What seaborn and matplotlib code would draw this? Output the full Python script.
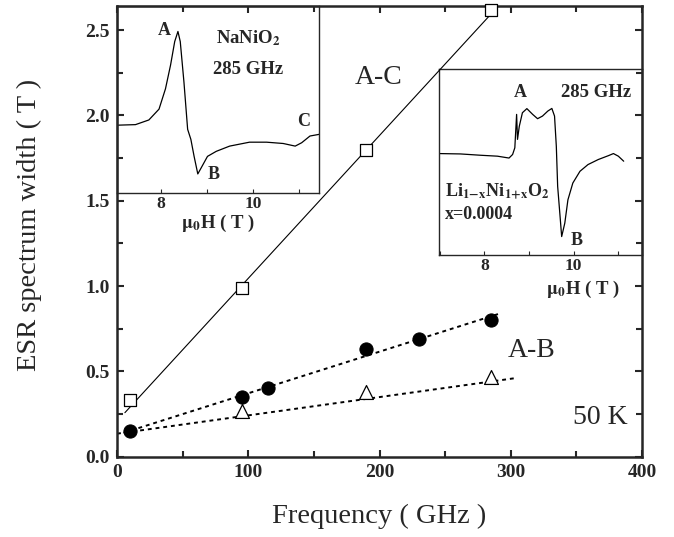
import matplotlib
matplotlib.use("Agg")
import matplotlib.pyplot as plt
import seaborn as sns
from matplotlib.ticker import MultipleLocator, FormatStrFormatter

# main panel: ESR spectrum width vs frequency (50 K)
freq_ac = [10, 95, 190, 285]
width_ac = [0.33, 0.99, 1.80, 2.62]
freq_ab = [10, 95, 115, 190, 230, 285]
width_ab = [0.15, 0.35, 0.40, 0.63, 0.69, 0.80]
freq_ab_li = [95, 190, 285]
width_ab_li = [0.27, 0.38, 0.47]

# guide lines, end points
line_ac_f = [6, 300]
line_ac_w = [0.258, 2.72]
line_ab_f = [5, 292]
line_ab_w = [0.14, 0.84]
line_li_f = [0, 303]
line_li_w = [0.135, 0.46]

# inset 1: NaNiO2 spectrum at 285 GHz (field in T, signal in box units)
na_field = [7.05, 7.45, 7.74, 7.96, 8.10, 8.21, 8.30, 8.37, 8.42, 8.50, 8.58, 8.65,
            8.72, 8.80, 8.87, 9.01, 9.20, 9.49, 9.92, 10.29, 10.65, 10.91, 11.05, 11.23, 11.43]
na_signal = [0.362, 0.365, 0.39, 0.448, 0.557, 0.684, 0.81, 0.864, 0.81, 0.593, 0.34, 0.286,
             0.195, 0.101, 0.132, 0.195, 0.222, 0.25, 0.271, 0.271, 0.264, 0.25, 0.268, 0.304, 0.313]

# inset 2: Li(1-x)Ni(1+x)O2 spectrum at 285 GHz
li_field = [6.98, 7.46, 7.91, 8.29, 8.55, 8.63, 8.68, 8.72, 8.74, 8.78, 8.85, 8.95, 9.08,
            9.19, 9.30, 9.42, 9.51, 9.57, 9.61, 9.64, 9.70, 9.73, 9.80, 9.87, 9.98, 10.14,
            10.32, 10.55, 10.78, 10.89, 11.0, 11.12]
li_signal = [0.544, 0.542, 0.535, 0.53, 0.52, 0.539, 0.575, 0.754, 0.62, 0.69, 0.763, 0.785,
             0.754, 0.731, 0.745, 0.772, 0.786, 0.745, 0.583, 0.368, 0.189, 0.099, 0.171, 0.296,
             0.386, 0.449, 0.485, 0.512, 0.533, 0.544, 0.53, 0.503]

sns.set_style("ticks")
plt.rcParams['font.family'] = ['Liberation Serif', 'DejaVu Serif']
plt.rcParams['mathtext.fontset'] = 'stix'

fig = plt.figure(figsize=(6.74, 5.37), dpi=100)
ax = fig.add_axes([0.1736, 0.1495, 0.779, 0.839])

sns.lineplot(x=line_ac_f, y=line_ac_w, ax=ax, color='black', lw=0.8)
sns.lineplot(x=line_ab_f, y=line_ab_w, ax=ax, color='black', lw=1.4, linestyle=(0, (2, 2)))
sns.lineplot(x=line_li_f, y=line_li_w, ax=ax, color='black', lw=1.4, linestyle=(0, (2, 2)))

sns.scatterplot(x=freq_ac, y=width_ac, ax=ax, marker='s', s=70, facecolor='white',
                edgecolor='black', linewidth=0.9, zorder=5, clip_on=False)
sns.scatterplot(x=freq_ab_li, y=width_ab_li, ax=ax, marker='^', s=100, facecolor='white',
                edgecolor='black', linewidth=0.9, zorder=5)
sns.scatterplot(x=freq_ab, y=width_ab, ax=ax, marker='o', s=90, color='black',
                edgecolor='black', zorder=6)

ax.set_xlim(0, 400)
ax.set_ylim(0, 2.64)
ax.xaxis.set_major_locator(MultipleLocator(100))
ax.xaxis.set_minor_locator(MultipleLocator(50))
ax.yaxis.set_major_locator(MultipleLocator(0.5))
ax.yaxis.set_minor_locator(MultipleLocator(0.25))
ax.yaxis.set_major_formatter(FormatStrFormatter('%.1f'))
ax.tick_params(which='both', direction='in', top=True, right=True, width=1.5,
               labelsize=14, pad=5)
ax.tick_params(which='major', length=5)
ax.tick_params(which='minor', length=4)
for lab in ax.get_xticklabels() + ax.get_yticklabels():
    lab.set_fontweight('bold')
for sp in ax.spines.values():
    sp.set_linewidth(1.8)

ax.set_xlabel('Frequency ( GHz )', fontsize=20.5)
ax.set_ylabel('ESR spectrum width ( T )', fontsize=20.5)
ax.xaxis.set_label_coords(0.5, -0.105)
ax.yaxis.set_label_coords(-0.143, 0.514)

ax.text(199, 2.22, 'A-C', fontsize=20, ha='center', va='center')
ax.text(316, 0.625, 'A-B', fontsize=20, ha='center', va='center')
ax.text(389, 0.23, '50 K', fontsize=20, ha='right', va='center')

# main axes drawn above the insets so its ticks show through
ax.set_zorder(3)
ax.patch.set_visible(False)


def style_inset(ins, xlim):
    ins.set_xlim(*xlim)
    ins.set_ylim(0, 1)
    ins.set_yticks([])
    ins.xaxis.set_major_locator(MultipleLocator(2))
    ins.xaxis.set_minor_locator(MultipleLocator(1))
    ins.tick_params(which='both', direction='in', length=3, width=0.8, labelsize=12.5, pad=2)
    for lab in ins.get_xticklabels():
        lab.set_fontweight('bold')
    for sp in ins.spines.values():
        sp.set_linewidth(1.0)
    ins.set_xlabel(r'$\mathbf{\mu_0}$H ( T )', fontsize=13.5, fontweight='bold')


# inset 1
ins1 = fig.add_axes([0.1736, 0.641, 0.300, 0.3477])
ins1.set_zorder(1)
sns.lineplot(x=na_field, y=na_signal, ax=ins1, color='black', lw=0.9, sort=False)
style_inset(ins1, (7.05, 11.43))
ins1.xaxis.set_label_coords(0.50, -0.105)
ins1.text(8.07, 0.87, 'A', fontsize=13, fontweight='bold', ha='center', va='center')
ins1.text(9.14, 0.10, 'B', fontsize=13, fontweight='bold', ha='center', va='center')
ins1.text(11.09, 0.38, 'C', fontsize=13, fontweight='bold', ha='center', va='center')
ins1.text(9.89, 0.83, r'NaNiO$_\mathbf{2}$', fontsize=13.5, fontweight='bold', ha='center', va='center')
ins1.text(9.89, 0.66, '285 GHz', fontsize=13.5, fontweight='bold', ha='center', va='center')

# inset 2
ins2 = fig.add_axes([0.6513, 0.5251, 0.3012, 0.3473])
ins2.set_zorder(1)
sns.lineplot(x=li_field, y=li_signal, ax=ins2, color='black', lw=0.9, sort=False)
style_inset(ins2, (6.98, 11.53))
ins2.xaxis.set_label_coords(0.71, -0.13)
ins2.text(8.81, 0.87, 'A', fontsize=13, fontweight='bold', ha='center', va='center')
ins2.text(10.06, 0.08, 'B', fontsize=13, fontweight='bold', ha='center', va='center')
ins2.text(10.51, 0.87, '285 GHz', fontsize=13.5, fontweight='bold', ha='center', va='center')
ins2.text(7.12, 0.34, r'Li$_\mathbf{1\!-\!x}$Ni$_\mathbf{1\!+\!x}$O$_\mathbf{2}$', fontsize=13,
          fontweight='bold', ha='left', va='center')
ins2.text(7.12, 0.215, 'x=0.0004', fontsize=13, fontweight='bold', ha='left', va='center')

fig.savefig('out.png', dpi=100, facecolor='white')
